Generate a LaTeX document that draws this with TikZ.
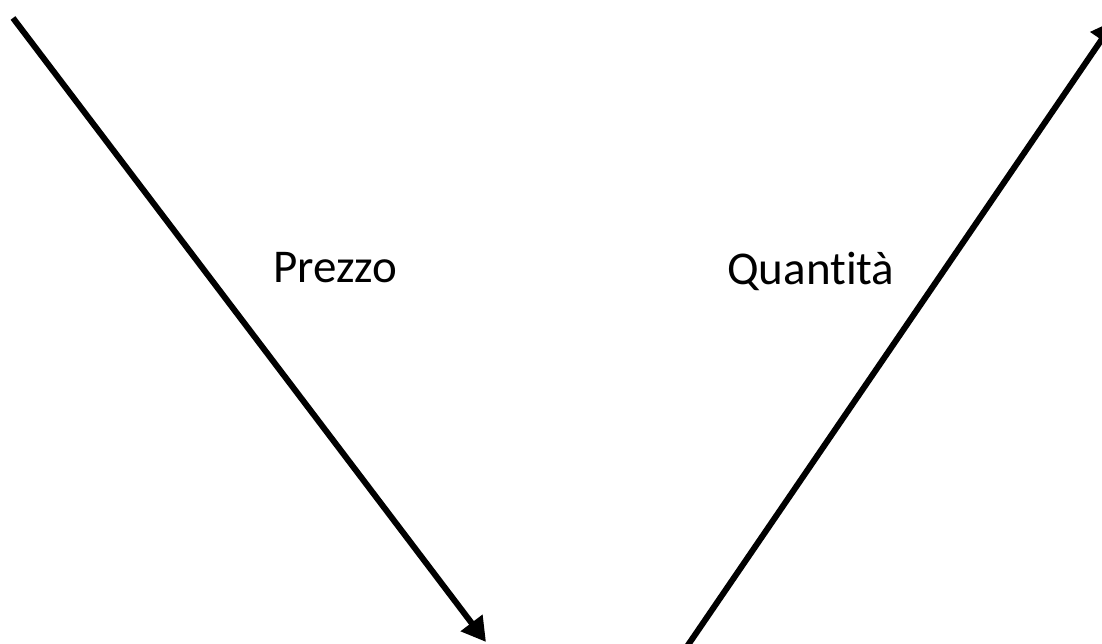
\documentclass[tikz,border=0pt]{standalone}
\usepackage{fontspec}
\setmainfont[Ligatures=NoCommon]{Carlito}
\usetikzlibrary{arrows.meta}
\begin{document}
\begin{tikzpicture}[x=1pt,y=1pt,
  axisarrow/.style={line width=6pt,-{Triangle[length=24pt,width=26pt]}},
  lbl/.style={font=\fontsize{47}{56}\selectfont,anchor=base west,inner sep=0pt}]
\useasboundingbox (0,0) rectangle (1102,644);
\coordinate (ls) at (13,626);
\coordinate (le) at (486,2);
\coordinate (rs) at (686,-4);
\coordinate (re) at (1115,624);
\draw[axisarrow] (ls) -- (le);
\draw[axisarrow] (rs) -- (re);
\node[lbl] (p) at (273,361) {Prezzo};
\node[lbl] (q) at (727,359) {Quantità};
\end{tikzpicture}
\end{document}
